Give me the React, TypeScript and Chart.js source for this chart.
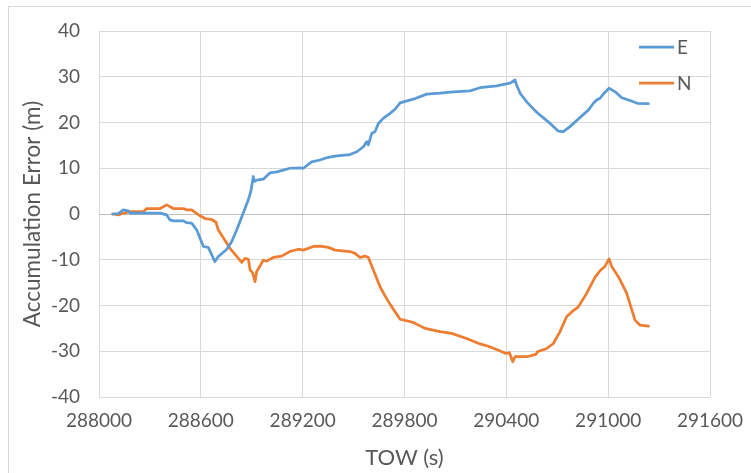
import { useEffect, useRef } from "react";
import { Chart, registerables } from "chart.js";

Chart.register(...registerables);

const eTow = [288081, 288114, 288143, 288173, 288183, 288360, 288399, 288418, 288438, 288497, 288517, 288546, 288576, 288615, 288644, 288683, 288703, 288753, 288782, 288811, 288850, 288880, 288895, 288909, 288915, 288929, 288968, 289008, 289047, 289086, 289125, 289184, 289204, 289253, 289302, 289342, 289401, 289479, 289519, 289558, 289577, 289587, 289607, 289626, 289646, 289675, 289715, 289744, 289774, 289852, 289931, 290009, 290088, 290186, 290245, 290343, 290422, 290451, 290461, 290481, 290520, 290569, 290599, 290658, 290707, 290736, 290775, 290834, 290883, 290913, 290932, 290952, 290976, 291005, 291041, 291080, 291129, 291172, 291237];
const eErr = [0, 0.1, 0.9, 0.7, 0.2, 0.2, -0.2, -1.3, -1.5, -1.5, -1.9, -2, -3.5, -7.1, -7.3, -10.4, -9.3, -7.7, -6, -3.5, 0.2, 3.1, 5.0, 8.2, 7.1, 7.4, 7.6, 9, 9.2, 9.6, 10, 10.1, 10, 11.4, 11.8, 12.3, 12.7, 13, 13.6, 14.7, 15.8, 15.1, 17.6, 18, 19.8, 20.9, 22, 22.9, 24.3, 25.1, 26.2, 26.4, 26.7, 26.9, 27.6, 28, 28.6, 29.3, 28.2, 26.4, 24.5, 22.6, 21.6, 19.8, 18.1, 18, 19.1, 21.1, 22.7, 24.2, 24.9, 25.3, 26.4, 27.5, 26.7, 25.4, 24.8, 24.2, 24.1];

const nTow = [288081, 288114, 288143, 288183, 288261, 288281, 288360, 288399, 288438, 288497, 288517, 288546, 288595, 288625, 288664, 288689, 288703, 288772, 288841, 288860, 288880, 288890, 288905, 288919, 288929, 288968, 288988, 289027, 289076, 289125, 289174, 289204, 289263, 289302, 289351, 289391, 289479, 289509, 289538, 289567, 289587, 289616, 289656, 289685, 289725, 289774, 289852, 289921, 290009, 290078, 290166, 290245, 290294, 290343, 290398, 290418, 290438, 290451, 290520, 290575, 290583, 290638, 290677, 290716, 290756, 290785, 290824, 290874, 290923, 290952, 290982, 291005, 291021, 291060, 291109, 291158, 291188, 291237];
const nErr = [0, -0.2, 0.15, 0.5, 0.5, 1.2, 1.2, 2, 1.2, 1.2, 0.9, 0.9, -0.4, -1, -1.2, -1.8, -3.5, -7.5, -10.6, -9.7, -9.9, -12.2, -12.8, -14.8, -12.6, -10.1, -10.3, -9.5, -9.2, -8.2, -7.7, -7.9, -7.1, -7, -7.3, -7.9, -8.2, -8.6, -9.5, -9.2, -9.5, -12.2, -15.9, -17.9, -20.3, -23, -23.7, -25, -25.7, -26.1, -27.2, -28.4, -28.9, -29.6, -30.5, -30.3, -32.3, -31.2, -31.2, -30.7, -30.1, -29.4, -28.3, -25.7, -22.4, -21.4, -20.3, -17.3, -13.8, -12.4, -11.4, -9.8, -11.5, -13.7, -17.3, -23.2, -24.3, -24.5];

const seriesNames = ["E", "N"];
const xTicks = [288000, 288600, 289200, 289800, 290400, 291000, 291600];
const yTicks = [-40, -30, -20, -10, 0, 10, 20, 30, 40];

const FONT = "Lato, 'Open Sans', sans-serif";
const TEXT = "#595959";

const legendPlugin = {
  id: "customLegend",
  afterDraw(chart: any) {
    const ctx = chart.ctx;
    ctx.save();
    chart.data.datasets.forEach((ds: any, i: number) => {
      const y = 47 + i * 36;
      ctx.strokeStyle = ds.borderColor;
      ctx.lineWidth = 2.75;
      ctx.beginPath();
      ctx.moveTo(639, y);
      ctx.lineTo(674, y);
      ctx.stroke();
      ctx.fillStyle = TEXT;
      ctx.font = `19px ${FONT}`;
      ctx.textBaseline = "middle";
      ctx.textAlign = "left";
      ctx.fillText(ds.label, 677, y + 1);
    });
    ctx.restore();
  },
};

export default function App() {
  const ref = useRef<HTMLCanvasElement>(null);

  useEffect(() => {
    if (!ref.current) return;
    const chart = new Chart(ref.current, {
      type: "line",
      data: {
        datasets: [
          {
            label: seriesNames[0],
            data: eTow.map((x, i) => ({ x, y: eErr[i] })),
            borderColor: "#5B9BD5",
            backgroundColor: "#5B9BD5",
            borderWidth: 2.75,
            pointRadius: 0,
            tension: 0,
            borderJoinStyle: "round",
            borderCapStyle: "round",
          },
          {
            label: seriesNames[1],
            data: nTow.map((x, i) => ({ x, y: nErr[i] })),
            borderColor: "#ED7D31",
            backgroundColor: "#ED7D31",
            borderWidth: 2.75,
            pointRadius: 0,
            tension: 0,
            borderJoinStyle: "round",
            borderCapStyle: "round",
          },
        ],
      },
      options: {
        animation: false,
        responsive: false,
        maintainAspectRatio: false,
        layout: { padding: { left: 0, top: 31, right: 41, bottom: 0 } },
        plugins: { legend: { display: false }, tooltip: { enabled: false } },
        scales: {
          x: {
            type: "linear",
            min: xTicks[0],
            max: xTicks[xTicks.length - 1],
            afterBuildTicks: (s: any) => {
              s.ticks = xTicks.map((v) => ({ value: v }));
            },
            afterFit: (s: any) => {
              s.height = 76;
              s.paddingLeft = 0;
              s.paddingRight = 0;
            },
            ticks: {
              autoSkip: false,
              maxRotation: 0,
              padding: 12,
              color: TEXT,
              font: { family: FONT, size: 19 },
              callback: (v: any) => String(v),
            },
            grid: { color: "#d9d9d9", lineWidth: 1, drawTicks: false },
            border: { display: false },
            title: {
              display: true,
              text: "TOW (s)",
              color: TEXT,
              font: { family: FONT, size: 22 },
              padding: { top: 0, bottom: 2 },
            },
          },
          y: {
            type: "linear",
            min: yTicks[0],
            max: yTicks[yTicks.length - 1],
            afterBuildTicks: (s: any) => {
              s.ticks = yTicks.map((v) => ({ value: v }));
            },
            afterFit: (s: any) => {
              s.width = 99;
              s.paddingTop = 0;
              s.paddingBottom = 0;
            },
            ticks: {
              padding: 19,
              color: TEXT,
              font: { family: FONT, size: 19 },
              callback: (v: any) => String(v),
            },
            grid: {
              color: (c: any) => (c.tick && c.tick.value === 0 ? "#bfbfbf" : "#d9d9d9"),
              lineWidth: 1,
              drawTicks: false,
            },
            border: { display: false },
            title: {
              display: true,
              text: "Accumulation Error (m)",
              color: TEXT,
              font: { family: FONT, size: 22.5 },
              padding: { top: 19.5, bottom: 0 },
            },
          },
        },
      },
      plugins: [legendPlugin],
    } as any);
    return () => chart.destroy();
  }, []);

  return (
    <div
      style={{
        position: "fixed",
        left: 0,
        top: 0,
        width: 751,
        height: 473,
        overflow: "hidden",
        background: "#ffffff",
      }}
    >
      <div
        style={{
          position: "absolute",
          left: 8,
          top: 6,
          width: 800,
          height: 520,
          border: "1px solid #d9d9d9",
          boxSizing: "border-box",
        }}
      />
      <canvas ref={ref} width={751} height={473} style={{ position: "absolute", left: 0, top: 0, width: 751, height: 473 }} />
    </div>
  );
}
